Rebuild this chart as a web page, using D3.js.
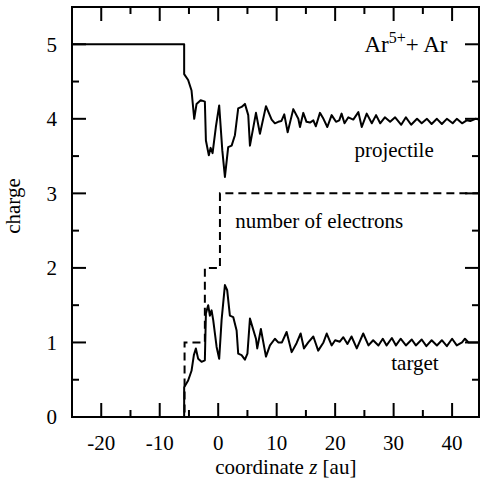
<!DOCTYPE html>
<html>
<head>
<meta charset="utf-8">
<script src="https://cdn.jsdelivr.net/npm/d3@7"></script>
<style>
  body { margin: 0; background: #fff; }
</style>
</head>
<body>
<div id="chart"></div>
<script>
// projectile charge vs z
const zProj = [-25, -5.82, -5.82, -5.14, -4.56, -4.1, -3.7, -3.0, -2.28, -2.1, -1.6, -1.3, -0.96, -0.4, 0.17, 0.7, 1.15, 1.71, 2.3, 2.86, 3.42, 4.0, 4.57, 5.14, 5.43, 6.46, 7.14, 8.17, 9.14, 9.7, 10.27, 10.8, 11.3, 11.88, 12.84, 13.7, 13.99, 14.55, 15.1, 15.7, 16.27, 16.7, 17.4, 18.0, 18.66, 19.4, 20.15, 20.7, 21.1, 21.6, 22.26, 23.1, 23.97, 24.55, 25.4, 26.27, 27.0, 27.7, 28.5, 29.4, 30.26, 31.3, 32.1, 33.0, 34.0, 34.8, 35.7, 36.5, 37.4, 38.25, 39.1, 40.1, 40.8, 41.7, 42.5, 43.1, 44.0, 44.6];
const qProj = [5, 5, 4.6, 4.52, 4.38, 4.0, 4.2, 4.25, 4.23, 3.71, 3.51, 3.61, 3.54, 3.89, 4.18, 3.58, 3.22, 3.62, 3.64, 3.78, 4.14, 4.16, 4.2, 4.05, 3.64, 4.08, 3.8, 4.17, 3.99, 3.94, 3.96, 3.97, 4.06, 3.82, 4.13, 4.0, 3.89, 4.08, 3.96, 3.95, 3.98, 3.9, 4.08, 4.0, 3.89, 4.05, 3.96, 3.98, 4.07, 3.94, 4.02, 3.99, 4.09, 3.89, 4.07, 3.94, 4.05, 3.94, 4.02, 3.96, 4.02, 3.92, 4.02, 3.92, 4.0, 3.94, 4.0, 3.93, 4.0, 3.93, 4.0, 3.94, 4.0, 3.94, 3.98, 3.97, 4.0, 3.99];

// target charge vs z
const zTarg = [-25, -5.82, -5.82, -5.14, -4.56, -4.16, -3.82, -3.42, -2.85, -2.28, -2.1, -1.71, -1.42, -1.13, -0.85, -0.27, 0.17, 0.58, 1.15, 1.54, 2.0, 2.57, 3.15, 3.42, 4.0, 4.57, 5.0, 5.43, 6.46, 6.68, 7.3, 8.17, 8.85, 9.7, 10.27, 10.9, 11.7, 12.57, 13.4, 14.1, 14.67, 15.4, 16.27, 17.1, 18.0, 18.56, 19.4, 20.0, 20.8, 21.4, 22.1, 22.8, 23.7, 24.8, 25.7, 26.5, 27.4, 28.15, 28.8, 29.7, 30.4, 31.2, 32.1, 33.1, 33.8, 34.8, 35.6, 36.5, 37.4, 38.25, 39.1, 40.0, 40.8, 41.7, 42.2, 42.8, 43.6, 44.6];
const qTarg = [0, 0, 0.4, 0.49, 0.62, 0.83, 0.92, 0.78, 0.74, 0.76, 1.39, 1.5, 1.36, 1.43, 1.3, 0.94, 0.78, 1.3, 1.77, 1.7, 1.36, 1.34, 1.16, 0.85, 0.83, 0.77, 0.85, 1.32, 1.05, 0.92, 1.18, 0.81, 0.96, 1.05, 1.0, 1.0, 1.14, 0.87, 0.99, 1.12, 0.92, 1.0, 1.08, 0.89, 1.0, 1.12, 0.96, 1.03, 1.01, 1.07, 0.98, 1.08, 0.92, 1.12, 0.96, 1.03, 0.96, 1.05, 0.96, 1.06, 0.96, 1.05, 0.96, 1.04, 0.96, 1.04, 0.95, 1.03, 0.96, 1.03, 0.95, 1.05, 0.96, 1.0, 1.05, 1.0, 1.0, 1.0];

// number of captured electrons (step)
const zElec = [-25, -5.75, -5.75, -2.28, -2.28, 0.3, 0.3, 44.6];
const nElec = [0, 0, 1, 1, 2, 2, 3, 3];

const xTicks = [-20, -10, 0, 10, 20, 30, 40];
const xMinor = [-25, -15, -5, 5, 15, 25, 35];
const yTicks = [0, 1, 2, 3, 4, 5];
const yMinor = [0.5, 1.5, 2.5, 3.5, 4.5];

const config = {
  width: 484,
  height: 485,
  margin: { top: 7, right: 5, bottom: 68, left: 72 },
};
const w = config.width - config.margin.left - config.margin.right;
const h = config.height - config.margin.top - config.margin.bottom;
const serif = "Liberation Serif";

const svg = d3
  .select("#chart")
  .append("svg")
  .attr("width", config.width)
  .attr("height", config.height);

const g = svg
  .append("g")
  .attr("transform", `translate(${config.margin.left},${config.margin.top})`);

const x = d3.scaleLinear().domain([-25, 44.6]).range([0, w]);
const y = d3.scaleLinear().domain([0, 5.5]).range([h, 0]);

svg
  .append("defs")
  .append("clipPath")
  .attr("id", "clip")
  .append("rect")
  .attr("width", w)
  .attr("height", h);

// inward ticks on all four sides
const major = 14, minor = 7;
const xT = xTicks.map((v) => ({ v, len: major })).concat(xMinor.map((v) => ({ v, len: minor })));
const yT = yTicks.map((v) => ({ v, len: major })).concat(yMinor.map((v) => ({ v, len: minor })));

function tickLines(cls, data, x1, x2, y1, y2) {
  g.selectAll("line." + cls)
    .data(data)
    .join("line")
    .attr("class", cls)
    .attr("x1", x1).attr("x2", x2)
    .attr("y1", y1).attr("y2", y2)
    .attr("stroke", "#000")
    .attr("stroke-width", 2);
}
tickLines("xb", xT, (d) => x(d.v), (d) => x(d.v), h, (d) => h - d.len);
tickLines("xt", xT, (d) => x(d.v), (d) => x(d.v), 0, (d) => d.len);
tickLines("yl", yT, 0, (d) => d.len, (d) => y(d.v), (d) => y(d.v));
tickLines("yr", yT, w, (d) => w - d.len, (d) => y(d.v), (d) => y(d.v));

// tick labels
g.selectAll("text.xLab")
  .data(xTicks)
  .join("text")
  .attr("class", "xLab")
  .attr("x", (d) => x(d))
  .attr("y", h + 33)
  .attr("text-anchor", "middle")
  .attr("font-family", serif)
  .style("font-size", "21px")
  .text((d) => d);

g.selectAll("text.yLab")
  .data(yTicks)
  .join("text")
  .attr("class", "yLab")
  .attr("x", -15)
  .attr("y", (d) => y(d))
  .attr("dy", "0.35em")
  .attr("text-anchor", "end")
  .attr("font-family", serif)
  .style("font-size", "21px")
  .text((d) => d);

// data lines
const line = d3.line().x((d) => x(d[0])).y((d) => y(d[1]));
const plot = g.append("g").attr("clip-path", "url(#clip)");

plot.append("path")
  .datum(zElec.map((z, i) => [z, nElec[i]]))
  .attr("d", line)
  .attr("fill", "none")
  .attr("stroke", "#000")
  .attr("stroke-width", 2)
  .attr("stroke-dasharray", "8,5");

plot.append("path")
  .datum(zProj.map((z, i) => [z, qProj[i]]))
  .attr("d", line)
  .attr("fill", "none")
  .attr("stroke", "#000")
  .attr("stroke-width", 2)
  .attr("stroke-linejoin", "round");

plot.append("path")
  .datum(zTarg.map((z, i) => [z, qTarg[i]]))
  .attr("d", line)
  .attr("fill", "none")
  .attr("stroke", "#000")
  .attr("stroke-width", 2)
  .attr("stroke-linejoin", "round");

// frame
g.append("rect")
  .attr("width", w)
  .attr("height", h)
  .attr("fill", "none")
  .attr("stroke", "#000")
  .attr("stroke-width", 2);

// labels inside the plot
function label(tx, ty, txt) {
  return g.append("text")
    .attr("x", tx)
    .attr("y", ty)
    .attr("font-family", serif)
    .style("font-size", "21px")
    .text(txt);
}
label(x(23.3), y(4) + 38, "projectile");
label(x(2.9), y(3) + 35, "number of electrons");
label(x(29.6), y(1) + 28, "target");

const title = g.append("text")
  .attr("x", x(25))
  .attr("y", y(5) + 8)
  .attr("font-family", serif)
  .style("font-size", "23px");
title.append("tspan").text("Ar");
title.append("tspan").attr("dy", -9).style("font-size", "16px").text("5+");
title.append("tspan").attr("dy", 9).text("+ Ar");

// axis titles
const xTitle = g.append("text")
  .attr("x", x(-0.5))
  .attr("y", h + 57)
  .attr("font-family", serif)
  .style("font-size", "21px");
xTitle.append("tspan").text("coordinate ");
xTitle.append("tspan").style("font-style", "italic").text("z");
xTitle.append("tspan").text("  [au]");

g.append("text")
  .attr("transform", "rotate(-90)")
  .attr("x", -h / 2 + 6)
  .attr("y", -52)
  .attr("text-anchor", "middle")
  .attr("font-family", serif)
  .style("font-size", "21px")
  .text("charge");
</script>
</body>
</html>
